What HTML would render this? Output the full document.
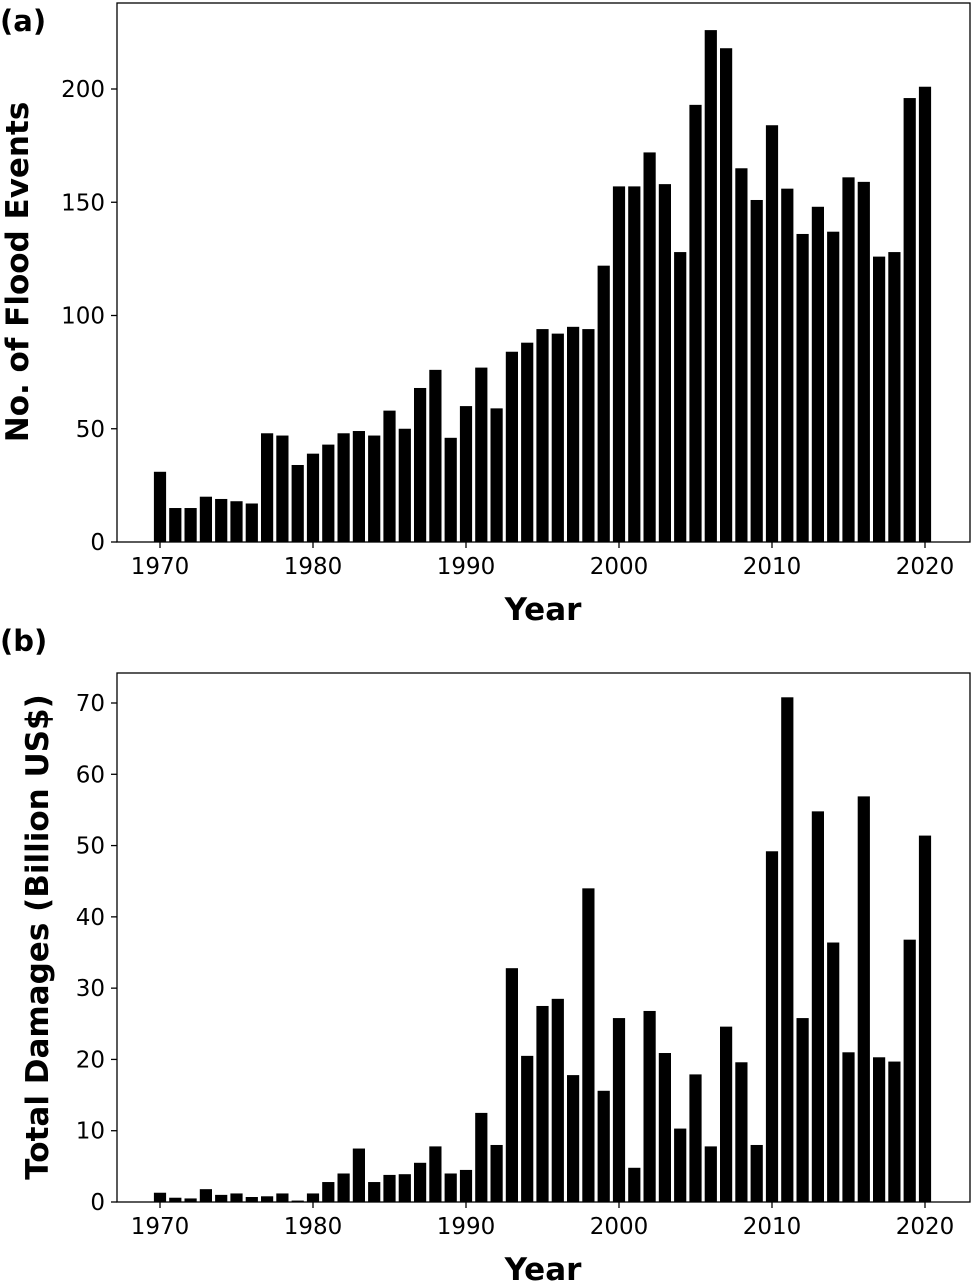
<!DOCTYPE html>
<html><head><meta charset="utf-8"><style>
body{margin:0;background:#fff;width:975px;height:1281px;overflow:hidden;font-family:"DejaVu Sans","Liberation Sans",sans-serif}
</style></head><body>
<svg id="chart" width="975" height="1281" xmlns="http://www.w3.org/2000/svg"></svg>
<script>
const years=[];for(let y=1970;y<=2020;y++)years.push(y);
const floodEvents=[31,15,15,20,19,18,17,48,47,34,39,43,48,49,47,58,50,68,76,46,60,77,59,84,88,94,92,95,94,122,157,157,172,158,128,193,226,218,165,151,184,156,136,148,137,161,159,126,128,196,201];
const damages=[1.3,0.6,0.5,1.8,1.0,1.2,0.7,0.8,1.2,0.2,1.2,2.8,4.0,7.5,2.8,3.8,3.9,5.5,7.8,4.0,4.5,12.5,8.0,32.8,20.5,27.5,28.5,17.8,44,15.6,25.8,4.8,26.8,20.9,10.3,17.9,7.8,24.6,19.6,8.0,49.2,70.8,25.8,54.8,36.4,21.0,56.9,20.3,19.7,36.8,51.4];
const xTicks=[1970,1980,1990,2000,2010,2020];
const yTicksA=[0,50,100,150,200];
const yTicksB=[0,10,20,30,40,50,60,70];
const NS="http://www.w3.org/2000/svg";
const svg=document.getElementById('chart');
function mk(t,a,txt){const e=document.createElementNS(NS,t);for(const k in a)e.setAttribute(k,a[k]);if(txt!==undefined)e.textContent=txt;svg.appendChild(e);return e;}
function panel(p){
  const xs=y=>160+(y-1970)*(925-160)/50;
  const ys=v=>p.y0-(v/p.vref)*(p.y0-p.yref);
  const box=mk('rect',{x:117,y:p.top,width:853,height:p.y0-p.top,fill:'none',stroke:'#000','stroke-width':1.3});
  
  
  years.forEach((yr,i)=>{
    const v=p.data[i];
    const r=mk('rect',{x:xs(yr)-6.1,y:ys(v),width:12.2,height:p.y0-ys(v),fill:'#000'});
    
    
  });
  xTicks.forEach(t=>{
    const l=mk('line',{x1:xs(t),x2:xs(t),y1:p.y0,y2:p.y0+6,stroke:'#000','stroke-width':1.3});
    
    
    const tx=mk('text',{x:xs(t),y:p.y0+32,'text-anchor':'middle','font-size':23},t);
    
    
  });
  p.ticks.forEach(t=>{
    const l=mk('line',{x1:111,x2:117,y1:ys(t),y2:ys(t),stroke:'#000','stroke-width':1.3});
    
    
    const tx=mk('text',{x:105,y:ys(t)+8,'text-anchor':'end','font-size':23},t);
    
    
  });
  const xt=mk('text',{x:543,y:p.y0+78,'text-anchor':'middle','font-size':31,'font-weight':'bold'},'Year');
  
  
  const yt=mk('text',{x:0,y:0,'text-anchor':'middle','font-size':31,'font-weight':'bold',transform:`translate(${p.ytx},${p.ytY}) rotate(-90)`},p.ytitle);
  
  
  const lab=mk('text',{x:0,y:p.labY,'font-size':29,'font-weight':'bold'},p.label);
  
  
}
panel({id:'panel-a',data:floodEvents,ticks:yTicksA,top:3,y0:542,vref:200,yref:89,ytitle:'No. of Flood Events',ytx:28,ytY:272,label:'(a)',labY:31});
panel({id:'panel-b',data:damages,ticks:yTicksB,top:673,y0:1202,vref:70,yref:703,ytitle:'Total Damages (Billion US$)',ytx:48,ytY:937,label:'(b)',labY:651});
</script>
</body></html>
